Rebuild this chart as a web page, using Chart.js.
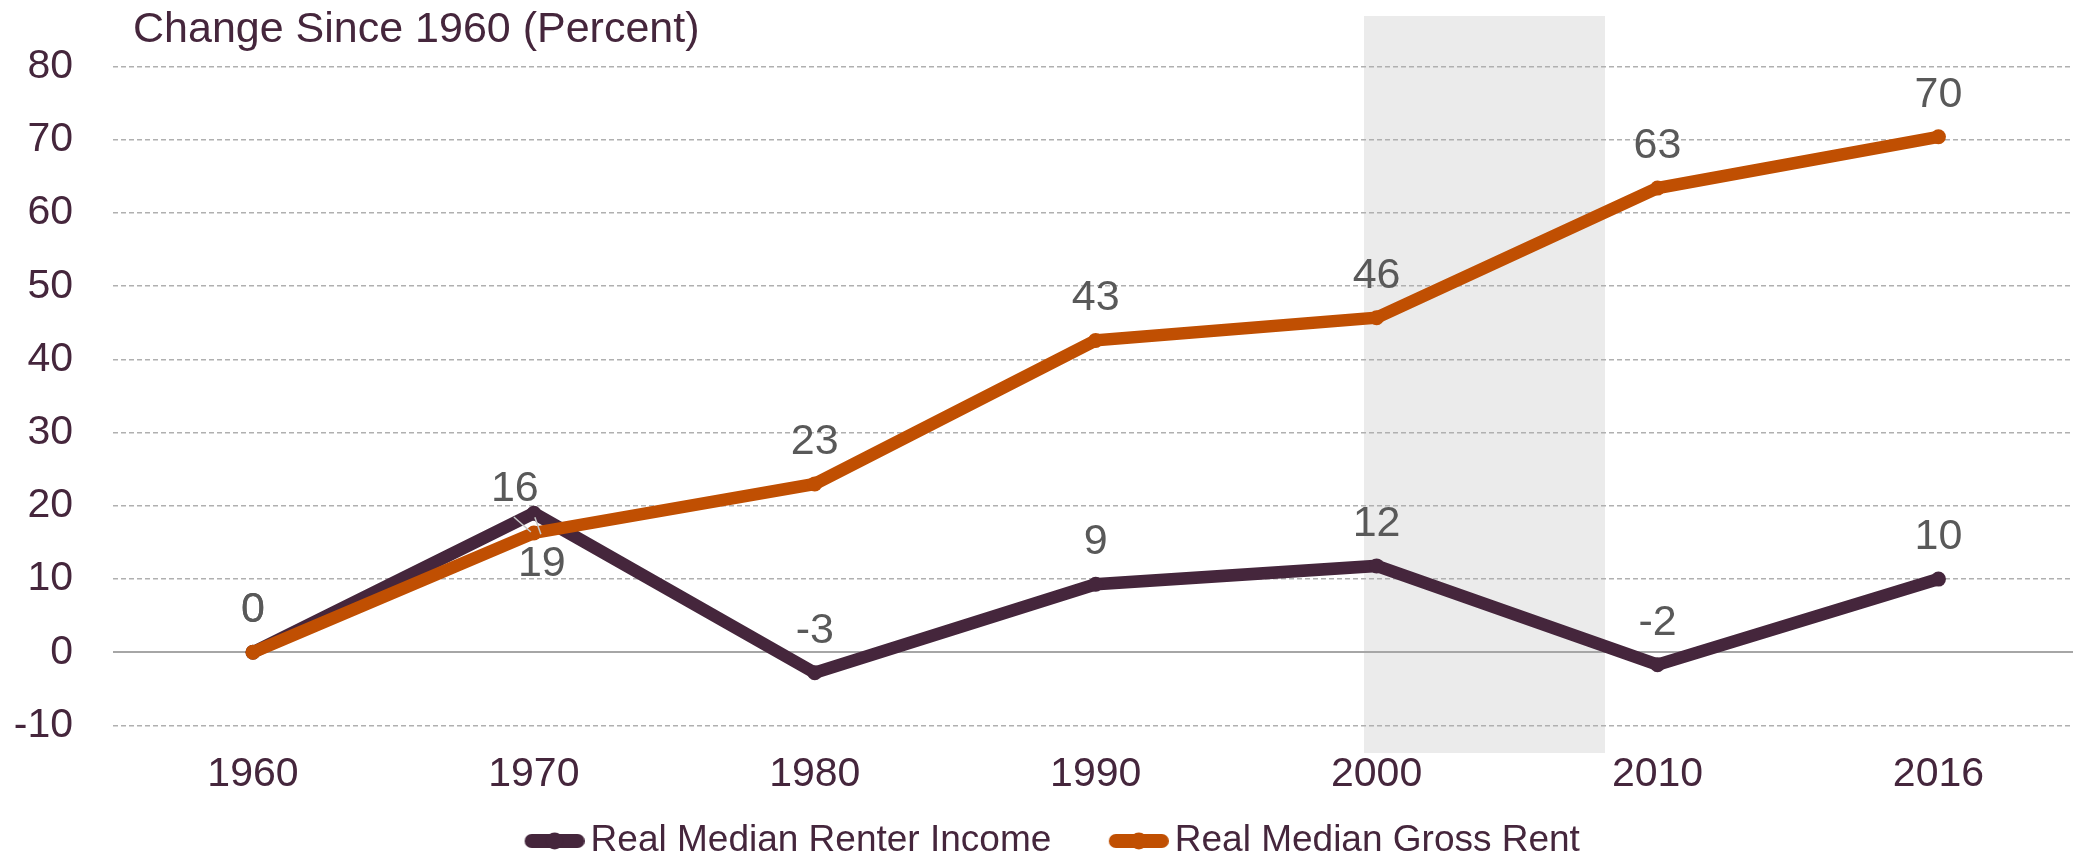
<!DOCTYPE html>
<html>
<head>
<meta charset="utf-8">
<script src="https://cdn.jsdelivr.net/npm/chart.js@4.4.1/dist/chart.umd.min.js"></script>
<style>
  html, body { margin: 0; padding: 0; background: #fff; }
  canvas { display: block; }
</style>
</head>
<body>
<canvas id="chart" width="2073" height="860"></canvas>
<script>
// data (percent change since 1960)
const years = ['1960', '1970', '1980', '1990', '2000', '2010', '2016'];
const renterIncome = [0, 19.0, -2.8, 9.3, 11.8, -1.7, 10.0];
const grossRent = [0, 16.3, 23.0, 42.6, 45.7, 63.4, 70.4];
const yTicks = [-10, 0, 10, 20, 30, 40, 50, 60, 70, 80];
// grey band, in year-axis index units (2000 .. ~2008)
const shadedSpan = [3.955, 4.813];

const FONT = "'Liberation Sans', Arial, sans-serif";
const TEXT = '#45263c';
const LABEL = '#595959';
const INCOME = '#45263c';
const RENT = '#c04f02';

function legendMarker(color) {
  const c = document.createElement('canvas');
  c.width = 100;
  c.height = 24;
  const g = c.getContext('2d');
  g.strokeStyle = color;
  g.fillStyle = color;
  g.lineWidth = 14;
  g.lineCap = 'round';
  g.beginPath();
  g.moveTo(47, 12);
  g.lineTo(93, 12);
  g.stroke();
  g.beginPath();
  g.arc(70, 12, 8.5, 0, Math.PI * 2);
  g.fill();
  return c;
}
const markers = [legendMarker(INCOME), legendMarker(RENT)];

const shadePlugin = {
  id: 'shade',
  beforeDraw(chart) {
    const { ctx, chartArea, scales } = chart;
    const x1 = scales.x.getPixelForValue(shadedSpan[0]);
    const x2 = scales.x.getPixelForValue(shadedSpan[1]);
    ctx.save();
    ctx.fillStyle = '#ebebeb';
    ctx.fillRect(x1, chartArea.top, x2 - x1, chartArea.bottom - chartArea.top);
    ctx.restore();
  }
};

const titlePlugin = {
  id: 'axisTitle',
  afterDraw(chart) {
    const { ctx } = chart;
    ctx.save();
    ctx.font = '43px ' + FONT;
    ctx.fillStyle = TEXT;
    ctx.textAlign = 'left';
    ctx.textBaseline = 'alphabetic';
    ctx.fillText('Change Since 1960 (Percent)', 133, 42);
    ctx.restore();
  }
};

const valueLabels = {
  id: 'valueLabels',
  afterDatasetsDraw(chart) {
    const { ctx } = chart;
    ctx.save();
    ctx.font = '43px ' + FONT;
    ctx.textAlign = 'center';
    ctx.textBaseline = 'middle';
    chart.data.datasets.forEach((ds, di) => {
      const meta = chart.getDatasetMeta(di);
      meta.data.forEach((pt, i) => {
        const off = (ds.labelOffsets && ds.labelOffsets[i]) || { dx: 0, dy: -42 };
        if (off.leader) {
          const [ax, ay, bx, by] = off.leader;
          ctx.strokeStyle = '#c8c8c8';
          ctx.lineWidth = 1.5;
          ctx.beginPath();
          ctx.moveTo(pt.x + ax, pt.y + ay);
          ctx.lineTo(pt.x + bx, pt.y + by);
          ctx.stroke();
        }
        ctx.fillStyle = LABEL;
        ctx.fillText(String(Math.round(ds.data[i].y)), pt.x + off.dx, pt.y + off.dy);
      });
    });
    ctx.restore();
  }
};

new Chart(document.getElementById('chart'), {
  type: 'line',
  data: {
    datasets: [
      {
        label: 'Real Median Renter Income',
        data: renterIncome.map((v, i) => ({ x: i, y: v })),
        borderColor: INCOME,
        backgroundColor: INCOME,
        borderWidth: 12.5,
        pointRadius: 7.5,
        pointBorderWidth: 0,
        order: 1,
        labelOffsets: { 1: { dx: 8, dy: 51, leader: [1, 4, 7, 21] } }
      },
      {
        label: 'Real Median Gross Rent',
        data: grossRent.map((v, i) => ({ x: i, y: v })),
        borderColor: RENT,
        backgroundColor: RENT,
        borderWidth: 12.5,
        pointRadius: 7.5,
        pointBorderWidth: 0,
        order: 0,
        labelOffsets: { 1: { dx: -19, dy: -44, leader: [-3, -1, -20, -16] } }
      }
    ]
  },
  options: {
    responsive: false,
    animation: false,
    devicePixelRatio: 1,
    layout: { autoPadding: false, padding: { top: 16, left: 4, right: 0, bottom: -9.5 } },
    plugins: {
      tooltip: { enabled: false },
      title: { display: false },
      legend: {
        position: 'bottom',
        labels: {
          usePointStyle: true,
          pointStyleWidth: 75,
          padding: 30,
          color: TEXT,
          font: { family: FONT, size: 37 },
          generateLabels: (chart) => chart.data.datasets.map((ds, i) => ({
            text: ds.label,
            pointStyle: markers[i],
            fillStyle: ds.borderColor,
            strokeStyle: ds.borderColor,
            lineWidth: 0,
            hidden: false,
            datasetIndex: i,
            fontColor: TEXT
          }))
        }
      }
    },
    scales: {
      x: {
        type: 'linear',
        min: -0.5,
        max: 6.479,
        afterBuildTicks: (scale) => { scale.ticks = years.map((_, i) => ({ value: i })); },
        afterFit: (scale) => {
          scale.height = 39.5;
          scale.paddingLeft = 0;
          scale.paddingRight = 0;
        },
        grid: { display: false, drawTicks: false },
        border: { display: false },
        ticks: {
          autoSkip: false,
          maxRotation: 0,
          padding: -3,
          color: TEXT,
          font: { family: FONT, size: 41 },
          callback: (v) => years[v]
        }
      },
      y: {
        min: -13.75,
        max: 86.9,
        afterBuildTicks: (scale) => { scale.ticks = yTicks.map((v) => ({ value: v })); },
        afterFit: (scale) => {
          scale.width = 108.5;
          // the tick padding would otherwise push the plot top down
          scale.paddingTop = 0;
          scale.paddingBottom = 0;
        },
        grid: {
          drawTicks: false,
          color: (ctx) => (ctx.tick && ctx.tick.value === 0 ? '#a6a6a6' : '#b0b0b0'),
          lineWidth: (ctx) => (ctx.tick && ctx.tick.value === 0 ? 2 : 1.5)
        },
        border: {
          display: false,
          dash: (ctx) => (ctx.tick && ctx.tick.value === 0 ? [] : [5, 3])
        },
        ticks: {
          padding: 39.5,
          color: TEXT,
          font: { family: FONT, size: 41 },
          callback: (v) => String(v)
        }
      }
    }
  },
  plugins: [shadePlugin, valueLabels, titlePlugin]
});
</script>
</body>
</html>
